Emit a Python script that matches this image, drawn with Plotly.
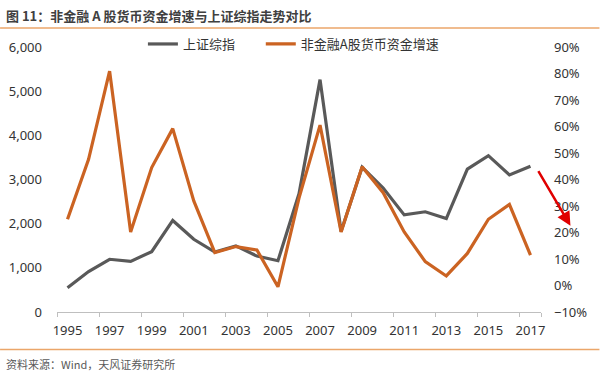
import plotly.graph_objects as go

years = list(range(1995, 2018))
sh_index = [550, 917, 1194, 1147, 1367, 2073, 1646, 1358, 1497, 1266, 1161, 2675,
            5262, 1821, 3277, 2808, 2199, 2269, 2116, 3235, 3539, 3104, 3300]
cash_growth = [25.0, 47.6, 80.9, 20.2, 44.5, 59.2, 31.9, 12.4, 14.7, 13.4, -0.5, 33.0,
               60.5, 20.2, 44.8, 35.0, 20.2, 9.0, 3.6, 12.1, 25.0, 30.6, 11.5]
x_tick_labels = [str(y) for y in years[::2]]

name_index = "上证综指"
name_growth = "非金融A股货币资金增速"
title_text = "图 11：非金融 A 股货币资金增速与上证综指走势对比"
source_text = "资料来源：Wind，天风证券研究所"

GRAY = "#595959"
ORANGE = "#CB6322"
LINE_OR = "#EBA66A"
NUM_FONT = "Noto Sans"
CJK_FONT = "Noto Sans CJK SC"

fig = go.Figure()
fig.add_trace(go.Scatter(x=years, y=sh_index, name=name_index, mode="lines",
                         line=dict(color=GRAY, width=3.2), yaxis="y", legend="legend"))
fig.add_trace(go.Scatter(x=years, y=cash_growth, name=name_growth, mode="lines",
                         line=dict(color=ORANGE, width=3.2), yaxis="y2", legend="legend2"))

L, R, T, B = 57, 58.5, 47, 65.5
W, H = 600, 378
pw, ph = W - L - R, H - T - B

def px(xp):
    return (xp - L) / pw

def py(yp):
    return (H - B - yp) / ph

boundaries = [y - 0.5 for y in years[::2]] + [years[-1] + 0.5]
leg_font = dict(family=CJK_FONT, size=13, color="#333333")

fig.update_layout(
    width=W, height=H,
    margin=dict(l=L, r=R, t=T, b=B, autoexpand=False),
    paper_bgcolor="white", plot_bgcolor="white",
    font=dict(family=NUM_FONT, size=13, color="#333333"),
    showlegend=True,
    legend=dict(orientation="h", x=px(143), y=py(44), xanchor="left", yanchor="middle",
                font=leg_font, itemwidth=30, bgcolor="rgba(0,0,0,0)"),
    legend2=dict(orientation="h", x=px(261), y=py(44), xanchor="left", yanchor="middle",
                 font=leg_font, itemwidth=30, bgcolor="rgba(0,0,0,0)"),
    xaxis=dict(range=[years[0] - 0.5, years[-1] + 0.5], tickmode="array",
               tickvals=years[::2], ticktext=x_tick_labels, ticks="", showgrid=False,
               zeroline=False, showline=True, linecolor="#BFBFBF", linewidth=1,
               ticklabelstandoff=6,
               tickfont=dict(family=NUM_FONT, size=13, color="#333333"),
               minor=dict(tickmode="array", tickvals=boundaries, ticks="outside",
                          ticklen=4, tickcolor="#BFBFBF", showgrid=False)),
    yaxis=dict(range=[0, 6000], dtick=1000, tickformat=",", showgrid=False,
               zeroline=False, showline=False, ticks="", ticklabelstandoff=14,
               tickfont=dict(family=NUM_FONT, size=13, color="#333333")),
    yaxis2=dict(range=[-10, 90], dtick=10, ticksuffix="%", overlaying="y", side="right",
                showgrid=False, zeroline=False, showline=False, ticks="",
                ticklabelstandoff=12,
                tickfont=dict(family=NUM_FONT, size=13, color="#333333")),
)

fig.add_annotation(xref="paper", yref="paper", x=px(4), y=py(15), xanchor="left",
                   yanchor="middle", showarrow=False,
                   text="<b>" + title_text + "</b>",
                   font=dict(family=CJK_FONT, size=13, color="#404040"))
fig.add_annotation(xref="paper", yref="paper", x=px(4), y=py(365), xanchor="left",
                   yanchor="middle", showarrow=False, text=source_text,
                   font=dict(family=CJK_FONT, size=11, color="#595959"))
fig.add_shape(type="line", xref="paper", yref="paper", x0=px(0), x1=px(600),
              y0=py(28), y1=py(28), line=dict(color=LINE_OR, width=1.5))
fig.add_shape(type="line", xref="paper", yref="paper", x0=px(0), x1=px(600),
              y0=py(350), y1=py(350), line=dict(color=LINE_OR, width=1.5))
fig.add_annotation(xref="paper", yref="paper", x=px(571), y=py(226), text="",
                   showarrow=True, arrowhead=2, arrowsize=1.1, arrowwidth=2.5,
                   arrowcolor="#E00000", ax=-33, ay=-56)

fig.write_html("out.html", config={"displayModeBar": False},
               post_script="document.body.style.margin='0';")
